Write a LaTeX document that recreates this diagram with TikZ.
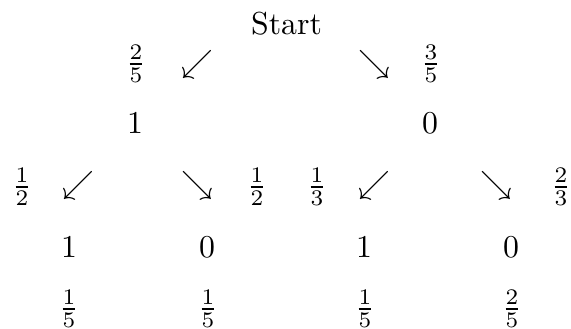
\documentclass[tikz,border=0pt]{standalone}
\usepackage{amsmath,amssymb}
\usepackage{tikz}
\usetikzlibrary{positioning}
\tikzset{
  val/.style={inner sep=0pt},
  prob/.style={inner sep=0pt},
  branch/.style={inner sep=0pt}
}

\begin{document}
\begin{tikzpicture}[x=0.011052cm, y=-0.011052cm]
    \useasboundingbox (0,0) rectangle (571,328);
    % root
    \node[val] (start) at (286.5,23.5) {Start};
    \node[prob] (pL) at (136,64) {$\frac{2}{5}$};
    \node[branch] (bL) at (197,65) {$\swarrow$};
    \node[branch] (bR) at (374,65) {$\searrow$};
    \node[prob] (pR) at (431,64) {$\frac{3}{5}$};
    % first draw
    \node[val] (vL) at (135,123) {$1$};
    \node[val] (vR) at (430,123) {$0$};
    % second draw, left branch
    \node[prob] (pLL) at (22,187) {$\frac{1}{2}$};
    \node[branch] (bLL) at (78,186) {$\swarrow$};
    \node[branch] (bLR) at (197,186) {$\searrow$};
    \node[prob] (pLR) at (257,187) {$\frac{1}{2}$};
    % second draw, right branch
    \node[prob] (pRL) at (317,187) {$\frac{1}{3}$};
    \node[branch] (bRL) at (374,186) {$\swarrow$};
    \node[branch] (bRR) at (496,186) {$\searrow$};
    \node[prob] (pRR) at (561,187) {$\frac{2}{3}$};
    % leaves
    \node[val] (vLL) at (69,247) {$1$};
    \node[val] (vLR) at (207,247) {$0$};
    \node[val] (vRL) at (364,247) {$1$};
    \node[val] (vRR) at (511,247) {$0$};
    % joint probabilities
    \node[prob] (qLL) at (69,309) {$\frac{1}{5}$};
    \node[prob] (qLR) at (208,309) {$\frac{1}{5}$};
    \node[prob] (qRL) at (365,309) {$\frac{1}{5}$};
    \node[prob] (qRR) at (512,309) {$\frac{2}{5}$};
\end{tikzpicture}
\end{document}
